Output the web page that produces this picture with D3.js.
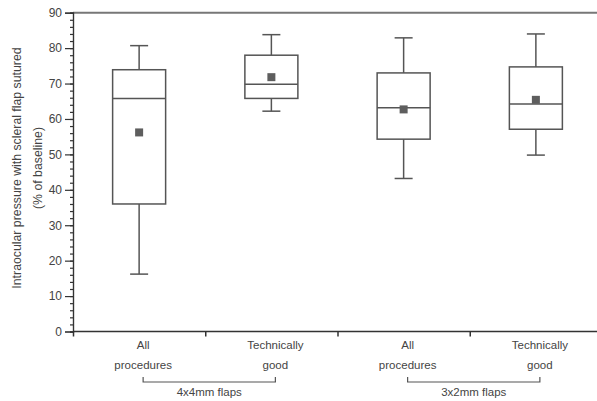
<!DOCTYPE html>
<html>
<head>
<meta charset="utf-8">
<script src="https://cdn.jsdelivr.net/npm/d3@7"></script>
<style>
  body { margin: 0; background: #fff; }
  text { font-family: "Liberation Sans", Arial, sans-serif; fill: #444; }
</style>
</head>
<body>
<svg id="chart" width="597" height="401"></svg>
<script>
// box stats (% of baseline)
var categories = ["All procedures", "Technically good", "All procedures", "Technically good"];
var labelLines = [["All", "procedures"], ["Technically", "good"], ["All", "procedures"], ["Technically", "good"]];
var whiskerHigh = [80.7, 83.8, 82.9, 84.0];
var q3 = [73.9, 78.0, 73.0, 74.7];
var median = [65.8, 69.8, 63.2, 64.2];
var mean = [56.2, 71.8, 62.7, 65.4];
var q1 = [36.0, 65.8, 54.3, 57.1];
var whiskerLow = [16.2, 62.2, 43.2, 49.8];
var groups = [{ name: "4x4mm flaps", from: 0, to: 1 }, { name: "3x2mm flaps", from: 2, to: 3 }];
var yTicks = [0, 10, 20, 30, 40, 50, 60, 70, 80, 90];

var svg = d3.select("#chart");

var x = d3.scaleLinear().domain([0, 4]).range([73, 602]);
var y = d3.scaleLinear().domain([0, 90]).range([331.5, 12.7]);

var boxW = 53, capW = 18;
var ink = "#555";

// top frame line
svg.append("line")
    .attr("x1", x(0)).attr("x2", 597)
    .attr("y1", y(90)).attr("y2", y(90))
    .attr("stroke", "#777").attr("stroke-width", 2);

// y axis with minor ticks
var yAxis = svg.append("g").attr("transform", "translate(" + x(0) + ",0)");
yAxis.call(d3.axisLeft(y).tickValues(d3.range(0, 91, 2)).tickSize(3).tickFormat(""));
yAxis.append("g").call(d3.axisLeft(y).tickValues(yTicks).tickSize(8).tickPadding(3));
yAxis.selectAll("path, line").attr("stroke", "#333").attr("stroke-width", 1.2);
yAxis.selectAll("text").attr("font-size", 12).attr("fill", "#444")
    .style("font-family", '"Liberation Sans", Arial, sans-serif');

// x axis
var xAxis = svg.append("g").attr("transform", "translate(0," + y(0) + ")");
xAxis.call(d3.axisBottom(x).tickValues([0, 1, 2, 3, 4]).tickSize(5).tickFormat("").tickSizeOuter(0));
xAxis.select("path").attr("d", "M" + x(0) + ",0H597");
xAxis.selectAll("path, line").attr("stroke", "#333").attr("stroke-width", 1.5);

// boxes
var b = svg.selectAll(".box").data(categories).enter().append("g")
    .attr("class", "box")
    .attr("transform", function (d, i) { return "translate(" + x(i + 0.5) + ",0)"; });

b.append("line")
    .attr("y1", function (d, i) { return y(whiskerHigh[i]); })
    .attr("y2", function (d, i) { return y(q3[i]); });
b.append("line")
    .attr("y1", function (d, i) { return y(q1[i]); })
    .attr("y2", function (d, i) { return y(whiskerLow[i]); });
b.append("line").attr("x1", -capW / 2).attr("x2", capW / 2)
    .attr("y1", function (d, i) { return y(whiskerHigh[i]); })
    .attr("y2", function (d, i) { return y(whiskerHigh[i]); });
b.append("line").attr("x1", -capW / 2).attr("x2", capW / 2)
    .attr("y1", function (d, i) { return y(whiskerLow[i]); })
    .attr("y2", function (d, i) { return y(whiskerLow[i]); });
b.append("rect")
    .attr("x", -boxW / 2).attr("width", boxW)
    .attr("y", function (d, i) { return y(q3[i]); })
    .attr("height", function (d, i) { return y(q1[i]) - y(q3[i]); })
    .attr("fill", "none");
b.append("line").attr("x1", -boxW / 2).attr("x2", boxW / 2)
    .attr("y1", function (d, i) { return y(median[i]); })
    .attr("y2", function (d, i) { return y(median[i]); });
b.selectAll("line, rect").attr("stroke", ink).attr("stroke-width", 1.5);
b.append("rect")
    .attr("x", -4).attr("width", 8).attr("height", 8)
    .attr("y", function (d, i) { return y(mean[i]) - 4; })
    .attr("fill", "#5e5e5e");

// category labels
b.each(function (d, i) {
    var t = d3.select(this).append("text")
        .attr("text-anchor", "middle").attr("font-size", 11.5);
    labelLines[i].forEach(function (s, k) {
        t.append("tspan").attr("x", 4).attr("y", 349 + k * 20).text(s);
    });
});

// group brackets
var g = svg.selectAll(".grp").data(groups).enter().append("g").attr("class", "grp");
g.append("path")
    .attr("d", function (d) {
        var a = x(d.from + 0.5) + 4, c = x(d.to + 0.5) + 4;
        return "M" + a + ",377V382H" + c + "V377";
    })
    .attr("fill", "none").attr("stroke", ink).attr("stroke-width", 1.2);
g.append("text")
    .attr("x", function (d) { return (x(d.from + 0.5) + x(d.to + 0.5)) / 2 + 4; })
    .attr("y", 396)
    .attr("text-anchor", "middle").attr("font-size", 11.5)
    .text(function (d) { return d.name; });

// y title
var yt = svg.append("text")
    .attr("transform", "translate(0,168) rotate(-90)")
    .attr("text-anchor", "middle").attr("font-size", 12.3);
yt.append("tspan").attr("x", 0).attr("y", 21).text("Intraocular pressure with scleral flap sutured");
yt.append("tspan").attr("x", 0).attr("y", 42).text("(% of baseline)");
</script>
</body>
</html>
